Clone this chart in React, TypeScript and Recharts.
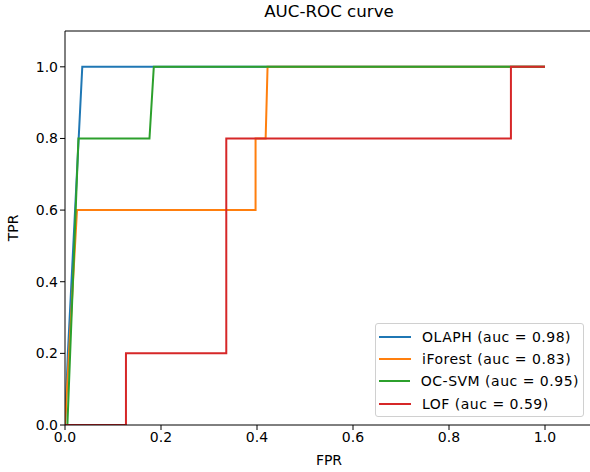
import { LineChart, Line, XAxis, YAxis, ReferenceLine, Label } from 'recharts'

// ROC points (fpr, tpr) for each detector
const olaphFpr = [0, 0.006, 0.036, 1]
const olaphTpr = [0, 0.2, 1, 1]

const iforestFpr = [0, 0.025, 0.397, 0.397, 0.418, 0.422, 1]
const iforestTpr = [0, 0.6, 0.6, 0.8, 0.8, 1, 1]

const ocsvmFpr = [0.005, 0.028, 0.176, 0.185, 1]
const ocsvmTpr = [0, 0.8, 0.8, 1, 1]

const lofFpr = [0, 0.127, 0.127, 0.336, 0.336, 0.929, 0.929, 1]
const lofTpr = [0, 0, 0.2, 0.2, 0.8, 0.8, 1, 1]

const axisTicks = [0, 0.2, 0.4, 0.6, 0.8, 1.0]

const toPoints = (fpr: number[], tpr: number[]) => fpr.map((x, i) => ({ x, y: tpr[i] }))

const series = [
    { name: 'OLAPH (auc = 0.98)', color: '#1f77b4', data: toPoints(olaphFpr, olaphTpr) },
    { name: 'iForest (auc = 0.83)', color: '#ff7f0e', data: toPoints(iforestFpr, iforestTpr) },
    { name: 'OC-SVM (auc = 0.95)', color: '#2ca02c', data: toPoints(ocsvmFpr, ocsvmTpr) },
    { name: 'LOF (auc = 0.59)', color: '#d62728', data: toPoints(lofFpr, lofTpr) },
]

const FONT = '"DejaVu Sans", sans-serif'
const TEXT = { fill: '#000', fontSize: 14, fontFamily: FONT }

// Legend box drawn over the lower right of the plot
const LegendBox = () => (
    <div style={{
        position: 'absolute',
        left: 375,
        top: 323,
        width: 209,
        boxSizing: 'border-box',
        background: 'rgba(255,255,255,0.8)',
        border: '1px solid #d0d0d0',
        borderRadius: 3,
        padding: '1.5px 4px 1.5px 3px',
        fontFamily: FONT,
        fontSize: 14,
        letterSpacing: 0.5,
        color: '#000',
    }}>
        {series.map(s => (
            <div key={s.name} style={{ display: 'flex', alignItems: 'center', height: 22.3, whiteSpace: 'nowrap' }}>
                <span style={{ display: 'inline-block', width: 32, height: 2, background: s.color, marginRight: 11 }} />
                <span>{s.name}</span>
            </div>
        ))}
    </div>
)

export default function App() {
    return (
        <div style={{ position: 'absolute', left: 0, top: 0, width: 590, height: 472, overflow: 'hidden', background: '#fff' }}>
            {/* title centred over the full plot width */}
            <div style={{
                position: 'absolute', left: 65, width: 528, top: 1, textAlign: 'center',
                fontFamily: FONT, fontSize: 16.7, color: '#000'
            }}>
                AUC-ROC curve
            </div>
            {/* the plot runs a few pixels past the right edge of the view */}
            <LineChart
                width={600}
                height={472}
                margin={{ top: 31, right: 7, bottom: 7, left: 15 }}
            >
                <XAxis
                    type="number"
                    dataKey="x"
                    domain={[0, 1.1]}
                    ticks={axisTicks}
                    allowDataOverflow
                    height={40}
                    tickFormatter={(v: number) => v.toFixed(1)}
                    tick={TEXT}
                    stroke="#000"
                    tickSize={5}
                >
                    <Label value="FPR" position="insideBottom" offset={0} style={TEXT} />
                </XAxis>
                <YAxis
                    type="number"
                    dataKey="y"
                    domain={[0, 1.1]}
                    ticks={axisTicks}
                    allowDataOverflow
                    width={50}
                    tickFormatter={(v: number) => v.toFixed(1)}
                    tick={TEXT}
                    stroke="#000"
                    tickSize={5}
                >
                    <Label value="TPR" angle={-90} position="insideLeft" offset={-2} style={{ ...TEXT, textAnchor: 'middle' }} />
                </YAxis>
                {/* top edge of the plot frame */}
                <ReferenceLine y={1.1} stroke="#000" strokeWidth={1} ifOverflow="extendDomain" />
                {series.map(s => (
                    <Line
                        key={s.name}
                        data={s.data}
                        dataKey="y"
                        name={s.name}
                        type="linear"
                        stroke={s.color}
                        strokeWidth={2}
                        dot={false}
                        activeDot={false}
                        isAnimationActive={false}
                    />
                ))}
            </LineChart>
            <LegendBox />
        </div>
    )
}
